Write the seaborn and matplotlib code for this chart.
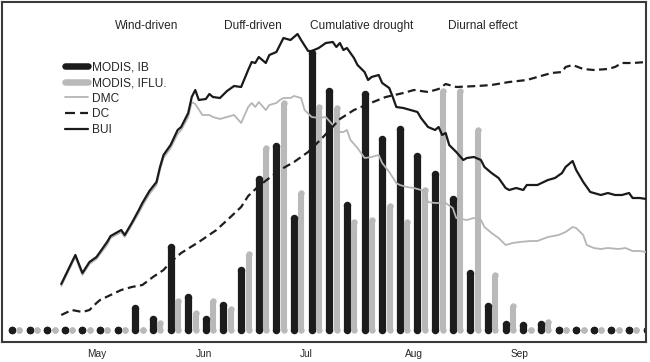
import numpy as np
import seaborn as sns
import matplotlib.pyplot as plt
from matplotlib.lines import Line2D

# -------------------------------
# Data (x in bin-days, 5 per bin; y in relative units)
# -------------------------------
ib = [0, 0, 0, 0, 0, 0, 0, 22, 11, 83, 33, 11, 25, 60, 151, 184, 112, 277, 239,
      125, 236, 191, 201, 174, 156, 131, 57, 24, 6, 5, 6, 0, 0, 0, 0, 0, 0]
iflu = [0, 0, 0, 0, 0, 0, 0, 0, 7, 29, 17, 29, 21, 76, 182, 227, 137, 223, 222,
        108, 110, 124, 108, 140, 239, 239, 200, 55, 24, 0, 8, 0, 0, 0, 0, 0, 0]

bui_day = [14, 18, 20, 22, 24, 25, 27, 28, 31, 32, 34, 36, 37, 39, 41, 42, 43, 45, 47, 48,
           50, 51, 52, 53, 55, 56, 57, 59, 61, 63, 65, 67, 68, 69, 70, 72, 73, 75, 76, 77,
           79, 81, 82, 84, 85, 87, 89, 91, 92, 93, 94, 95, 97, 98, 100, 101, 102, 104, 105,
           107, 108, 109, 111, 113, 115, 116, 118, 120, 121, 122, 123, 124, 126, 128, 129,
           131, 133, 134, 136, 138, 140, 141, 143, 145, 146, 149, 152, 154, 156, 157, 159,
           160, 162, 164, 167, 169, 171, 173, 175, 176, 178, 180]
bui = [46, 75, 57, 68, 73, 78, 88, 94, 100, 95, 107, 120, 127, 139, 148, 163, 175, 185, 200, 203,
       217, 233, 240, 230, 231, 236, 233, 232, 239, 244, 243, 260, 268, 267, 273, 267, 275, 278, 285, 292,
       290, 296, 290, 279, 279, 282, 287, 288, 283, 287, 280, 282, 272, 265, 258, 250, 253, 255, 247,
       242, 233, 223, 222, 220, 218, 212, 203, 200, 203, 195, 197, 185, 178, 170, 172,
       173, 170, 163, 157, 152, 142, 140, 142, 140, 145, 145, 150, 152, 157, 163, 169,
       160, 148, 138, 135, 137, 135, 135, 137, 132, 132, 131]

dmc_day = [14, 18, 20, 22, 24, 25, 27, 28, 31, 32, 34, 36, 37, 39, 41, 42, 43, 45, 47, 48, 50, 51,
           52, 54, 56, 57, 59, 61, 63, 65, 67, 68, 69, 70, 72, 73, 75, 76, 77, 79, 80, 82, 83, 85,
           87, 89, 91, 92, 94, 95, 96, 98, 100, 102, 104, 105, 107, 109, 110, 112, 114, 116, 117,
           118, 120, 123, 125, 126, 129, 131, 133, 134, 136, 138, 140, 142, 144, 147, 149, 152,
           155, 157, 159, 160, 162, 163, 165, 167, 169, 172, 174, 176, 178, 180]
dmc = [44, 73, 55, 66, 71, 76, 85, 92, 98, 93, 105, 117, 124, 136, 145, 160, 172, 182, 196, 200, 213, 228,
       226, 215, 215, 213, 211, 213, 215, 207, 223, 227, 223, 228, 220, 225, 227, 230, 232, 232, 234, 232, 220, 213,
       212, 213, 205, 198, 198, 200, 190, 182, 172, 173, 175, 167, 158, 147, 145, 143, 142, 140, 140,
       128, 127, 127, 122, 112, 110, 112, 110, 103, 97, 92, 85, 87, 88, 89, 89, 93,
       95, 98, 103, 102, 95, 85, 82, 81, 82, 81, 82, 79, 79, 78]

dc_day = [14, 17, 20, 22, 24, 25, 28, 31, 34, 37, 40, 43, 45, 48, 53, 58, 62, 65, 67, 70, 73, 77, 80, 84,
          88, 93, 97, 101, 106, 111, 114, 118, 121, 123, 126, 132, 136, 141, 146, 149, 153, 156, 157,
          159, 162, 165, 169, 171, 173, 176, 180]
dc = [15, 20, 18, 20, 27, 30, 35, 40, 43, 45, 53, 60, 68, 77, 88, 100, 113, 123, 134, 144, 152, 162, 168, 178,
      192, 211, 220, 226, 233, 237, 240, 238, 241, 246, 243, 244, 245, 248, 250, 253, 257, 258, 263,
      265, 261, 260, 261, 263, 267, 267, 268]

month_labels = ["May", "Jun", "Jul", "Aug", "Sep"]
month_pos = [24, 54.5, 83.5, 114, 144]
phase_labels = ["Wind-driven", "Duff-driven", "Cumulative drought", "Diurnal effect"]
phase_pos = [38.3, 68.3, 99.2, 133.5]

# -------------------------------
# Plot
# -------------------------------
sns.set_style("white")
plt.rcParams['font.family'] = ['Liberation Sans', 'DejaVu Sans']

fig = plt.figure(figsize=(6.5, 3.62), dpi=100)
ax = fig.add_axes([2 / 650, 20 / 362, 644 / 650, 340 / 362])

# rounded bars: a thick stem plus round dots at both ends (empty bins show only a dot)
x_bins = np.arange(len(ib)) * 5
x_gray = x_bins + 2.1
ax.vlines(x_bins, 0, ib, colors='#1c1c1c', linewidth=5.2, zorder=2)
ax.vlines(x_gray, 0, iflu, colors='#b9b9b9', linewidth=4.4, zorder=2)
sns.scatterplot(x=np.r_[x_bins, x_bins], y=np.r_[np.zeros(len(ib)), ib], s=29,
                color='#1c1c1c', linewidth=0, ax=ax, zorder=2)
sns.scatterplot(x=np.r_[x_gray, x_gray], y=np.r_[np.zeros(len(iflu)), iflu], s=21,
                color='#b9b9b9', linewidth=0, ax=ax, zorder=2)

sns.lineplot(x=dmc_day, y=dmc, color='#b5b5b5', linewidth=1.3, estimator=None, ax=ax, zorder=3)
sns.lineplot(x=dc_day, y=dc, color='#1e1e1e', linewidth=1.6, linestyle=(0, (3.6, 2)),
             estimator=None, ax=ax, zorder=3)
sns.lineplot(x=bui_day, y=bui, color='#1a1a1a', linewidth=1.6, estimator=None, ax=ax, zorder=4)

ax.set_xlim(-2.8, 179.8)
ax.set_ylim(-12, 328)
ax.set_yticks([])
ax.set_xticks(month_pos, month_labels)
ax.tick_params(axis='x', length=0, labelsize=7.3, pad=5)
ax.set_xlabel('')
ax.set_ylabel('')
for s in ax.spines.values():
    s.set_color('#3a3a3a')
    s.set_linewidth(1.5)

for lbl, xp in zip(phase_labels, phase_pos):
    ax.text(xp, 0.93, lbl, transform=ax.get_xaxis_transform(), ha='center', va='center', fontsize=8.6)

handles = [
    Line2D([], [], color='#1c1c1c', lw=4.7, solid_capstyle='round'),
    Line2D([], [], color='#b9b9b9', lw=4.7, solid_capstyle='round'),
    Line2D([], [], color='#b5b5b5', lw=1.3),
    Line2D([], [], color='#1e1e1e', lw=1.6, linestyle=(0, (4.5, 2.3))),
    Line2D([], [], color='#1a1a1a', lw=1.6),
]
ax.legend(handles, ["MODIS, IB", "MODIS, IFLU.", "DMC", "DC", "BUI"], loc='upper left',
          bbox_to_anchor=(0.098, 0.825), frameon=False, fontsize=8.6, handlelength=1.9,
          handletextpad=0.35, labelspacing=0.3, borderpad=0, borderaxespad=0)

fig.savefig('out.png', dpi=100)
